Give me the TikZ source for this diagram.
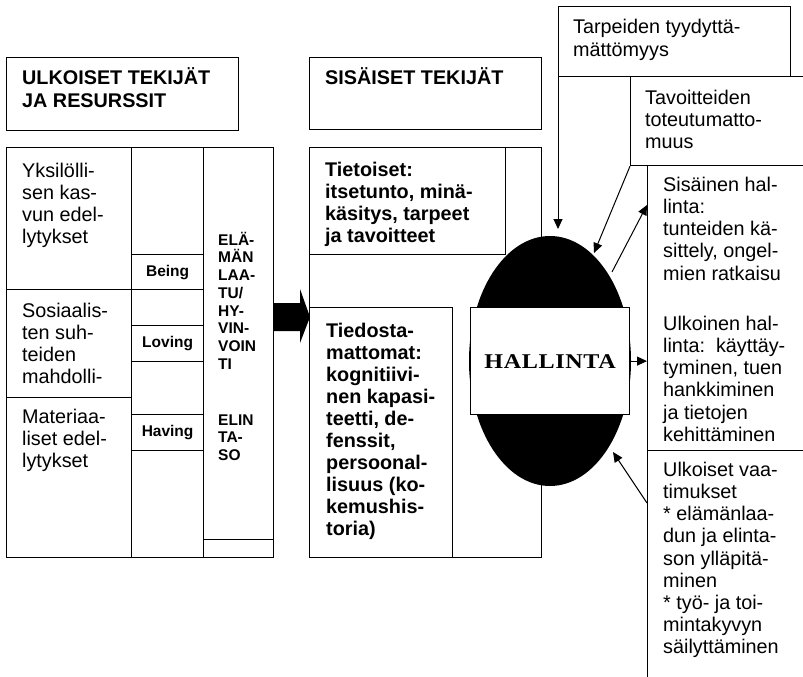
\documentclass[tikz,border=0pt]{standalone}
\usepackage{fontspec}
\setmainfont{Liberation Sans}
\newfontfamily\hallfont{Liberation Serif}[FakeStretch=1.15, LetterSpace=3]
\usetikzlibrary{arrows.meta,shapes.geometric}
\newcommand\fsA{\rule{0pt}{18pt}}
\newcommand\fsB{\rule{0pt}{14.5pt}}
\begin{document}
\begin{tikzpicture}[x=1pt,y=-1pt,
  box/.style={draw, line width=1.2pt, inner sep=0, anchor=north west},
  wbox/.style={box, fill=white},
  body/.style={anchor=north west, inner sep=0, align=left},
  reg/.style={body, font=\fontsize{19.8}{22}\selectfont},
  regR/.style={body, font=\fontsize{19.8}{22.2}\selectfont},
  bld/.style={body, font=\fontsize{19.8}{22}\selectfont\bfseries},
  sml/.style={font=\fontsize{15.5}{17.7}\selectfont\bfseries},
  arr/.style={line width=1pt, -{Triangle[length=10pt,width=9pt]}}
]
\useasboundingbox (0,0) rectangle (803,677);
\clip (0,0) rectangle (803,677);

% left part
\node[box, minimum width=232, minimum height=73] (ulk) at (6,57) {};
\node[box, minimum width=267, minimum height=410] (lblock) at (6,147) {};
\node[box, minimum width=125, minimum height=142] (c1) at (6,147) {};
\node[box, minimum width=125, minimum height=108] (c2) at (6,289) {};
\node[box, minimum width=125, minimum height=160] (c3) at (6,397) {};
\node[box, minimum width=72, minimum height=410] (col2) at (131,147) {};
\node[box, minimum width=70, minimum height=392] (elam) at (203,147) {};
\node[box, sml, minimum width=72, minimum height=35] (being) at (131,254) {Being};
\node[box, sml, minimum width=72, minimum height=36] (loving) at (131,325) {Loving};
\node[box, sml, minimum width=72, minimum height=36] (having) at (131,414) {Having};

% big arrow
\fill (273,303) -- (300,303) -- (300,289) -- (310,317) -- (300,343) -- (300,331) -- (273,331) -- cycle;

% middle part
\node[box, minimum width=232, minimum height=72] (sis) at (309,57) {};
\node[box, minimum width=232, minimum height=410] (rblock) at (309,147) {};
\node[box, minimum width=196, minimum height=107] (tiet) at (309,147) {};
\node[box, minimum width=143, minimum height=250] (tied) at (309,307) {};

% right part
\node[box, minimum width=232, minimum height=70] (tarp) at (558,6) {};
\node[box, minimum width=190, minimum height=89] (tav) at (630,76) {};
\node[box, minimum width=170, minimum height=285] (rc1) at (647,165) {};
\node[box, minimum width=170, minimum height=240] (rc2) at (647,450) {};

% HALLINTA
\node[ellipse, fill=black, inner sep=0, minimum width=162, minimum height=250] (ell) at (550,361) {};
\node[wbox, minimum width=159, minimum height=107, font=\hallfont\bfseries\fontsize{21}{21}\selectfont] (hall) at (470,307) {HALLINTA};

% connectors
\coordinate (t1) at (558,229);
\coordinate (t2) at (594,253);
\coordinate (s3) at (612,272);
\coordinate (t3) at (647,205);
\coordinate (s4) at (647,503);
\coordinate (t4) at (613,452);
\draw[arr] (hall.east) -- (rc1.west |- hall.east);
\draw[arr] (tarp.south west) -- (t1);
\draw[arr] (tav.south west) -- (t2);
\draw[arr] (s3) -- (t3);
\draw[arr] (s4) -- (t4);

% texts
\node[body, font=\fontsize{19.8}{23}\selectfont\bfseries] (ulkT) at (22,66) {\fsA ULKOISET TEKIJÄT\\JA RESURSSIT};
\node[reg] (c1T) at (22,159) {\fsA Yksilölli-\\sen kas-\\vun edel-\\lytykset};
\node[reg] (c2T) at (22,299) {\fsA Sosiaalis-\\ten suh-\\teiden\\mahdolli-};
\node[reg] (c3T) at (22,405) {\fsA Materiaa-\\liset edel-\\lytykset};
\node[body, sml] (elamT) at (218,230.5) {\fsB ELÄ-\\MÄN\\LAA-\\TU/\\HY-\\VIN-\\VOIN\\TI};
\node[body, sml] (elinT) at (218,410.5) {\fsB ELIN\\TA-\\SO};

\node[bld] (sisT) at (325,66) {\fsA SISÄISET TEKIJÄT};
\node[bld] (tietT) at (325,158) {\fsA Tietoiset:\\itsetunto, minä-\\käsitys, tarpeet\\ja tavoitteet};
\node[bld] (tiedT) at (326,319) {\fsA Tiedosta-\\mattomat:\\kognitiivi-\\nen kapasi-\\teetti, de-\\fenssit,\\persoonal-\\lisuus (ko-\\kemushis-\\toria)};

\node[body, font=\fontsize{19.8}{23}\selectfont] (tarpT) at (573,15) {\fsA Tarpeiden tyydyttä-\\mättömyys};
\node[reg] (tavT) at (645,86) {\fsA Tavoitteiden\\toteutumatto-\\muus};
\node[regR] (sisH) at (663,173) {\fsA Sisäinen hal-\\linta:\\tunteiden kä-\\sittely, ongel-\\mien ratkaisu};
\node[regR] (ulkH) at (663,312) {\fsA Ulkoinen hal-\\linta:\ \ käyttäy-\\tyminen, tuen\\hankkiminen\\ja tietojen\\kehittäminen};
\node[regR] (vaaT) at (663,458) {\fsA Ulkoiset vaa-\\timukset\\* elämänlaa-\\dun ja elinta-\\son ylläpitä-\\minen\\* työ- ja toi-\\mintakyvyn\\säilyttäminen};
\end{tikzpicture}
\end{document}
